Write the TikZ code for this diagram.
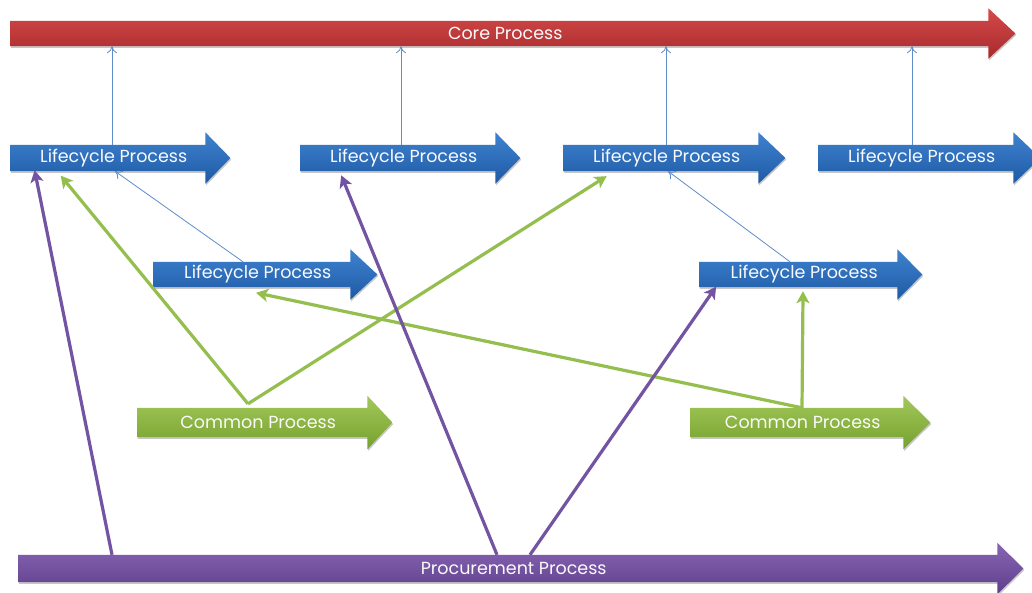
\documentclass[tikz,border=0pt]{standalone}
\usepackage{fontspec}
\setmainfont{Poppins}
\usetikzlibrary{arrows.meta,backgrounds,shadows}
\definecolor{redT}{HTML}{D44A4A}
\definecolor{redB}{HTML}{A82A2C}
\definecolor{bluT}{HTML}{3F82CF}
\definecolor{bluB}{HTML}{1E5AA5}
\definecolor{grnT}{HTML}{A2C85A}
\definecolor{grnB}{HTML}{76A12E}
\definecolor{purT}{HTML}{8865B3}
\definecolor{purB}{HTML}{5E3F8C}
\definecolor{lnBlue}{HTML}{5F8DC8}
\definecolor{lnGreen}{HTML}{94BE4E}
\definecolor{lnPurple}{HTML}{7354A3}
\tikzset{
  bar/.style={rectangle, inner sep=0pt, anchor=west, text=white!96!gray,
    font=\fontsize{17.5}{19}\selectfont},
  thinlink/.style={draw=lnBlue, line width=0.8pt, -{To[length=7pt,width=10pt]}},
  greenlink/.style={draw=lnGreen, line width=3.2pt, -{Stealth[length=12pt,width=13pt,inset=3pt]}, shorten >=-2pt},
  purplelink/.style={draw=lnPurple, line width=3.2pt, -{Stealth[length=12pt,width=13pt,inset=3pt]}, shorten >=-2pt},
  arrowshadow/.style={drop shadow={shadow xshift=0.8pt, shadow yshift=-1.6pt, opacity=0.22, fill=black}}
}
\newcommand\shapearrow[5]{%
  \path[top color=#4, bottom color=#5, arrowshadow]
    (#1.north west) -- (#1.north east) -- ([yshift=#2]#1.north east)
    -- ([xshift=#3]#1.east) -- ([yshift=-#2]#1.south east)
    -- (#1.south east) -- (#1.south west) -- cycle;}
\begin{document}
\begin{tikzpicture}[x=1pt,y=-1pt]
\useasboundingbox (0,0) rectangle (1032,592);

% nodes
\node[bar, minimum width=978pt, minimum height=25pt] (core) at (10,33.5) {\hspace*{12pt}Core Process};
\node[bar, minimum width=195pt, minimum height=26pt] (lp1) at (10,158) {\hspace*{12pt}Lifecycle Process};
\node[bar, minimum width=195pt, minimum height=26pt] (lp2) at (300,158) {\hspace*{12pt}Lifecycle Process};
\node[bar, minimum width=195pt, minimum height=26pt] (lp3) at (563,158) {\hspace*{12pt}Lifecycle Process};
\node[bar, minimum width=195pt, minimum height=26pt] (lp4) at (818,158) {\hspace*{12pt}Lifecycle Process};
\node[bar, minimum width=197pt, minimum height=25pt] (lp5) at (153,274.5) {\hspace*{12pt}Lifecycle Process};
\node[bar, minimum width=198pt, minimum height=25pt] (lp6) at (699,274.5) {\hspace*{12pt}Lifecycle Process};
\node[bar, minimum width=230pt, minimum height=29pt] (cp1) at (137,422.5) {\hspace*{12pt}Common Process};
\node[bar, minimum width=213pt, minimum height=29pt] (cp2) at (690,422.5) {\hspace*{12pt}Common Process};
\node[bar, minimum width=979pt, minimum height=27pt] (pp) at (18,568.5) {\hspace*{12pt}Procurement Process};

\begin{pgfonlayer}{background}
\fill[white] (0,0) rectangle (1032,592);
\shapearrow{core}{12.5pt}{27pt}{redT}{redB}
\shapearrow{lp1}{12.5pt}{25pt}{bluT}{bluB}
\shapearrow{lp2}{12.5pt}{25pt}{bluT}{bluB}
\shapearrow{lp3}{12.5pt}{27pt}{bluT}{bluB}
\shapearrow{lp4}{12.5pt}{27pt}{bluT}{bluB}
\shapearrow{lp5}{12.5pt}{27pt}{bluT}{bluB}
\shapearrow{lp6}{12.5pt}{25pt}{bluT}{bluB}
\shapearrow{cp1}{12pt}{25pt}{grnT}{grnB}
\shapearrow{cp2}{12pt}{27pt}{grnT}{grnB}
\shapearrow{pp}{12pt}{26pt}{purT}{purB}
\end{pgfonlayer}

% thin blue links
\draw[thinlink] ([xshift=102pt]lp1.north west) -- ([xshift=102pt]core.south west);
\draw[thinlink] ([xshift=101pt]lp2.north west) -- ([xshift=391pt]core.south west);
\draw[thinlink] ([xshift=103pt]lp3.north west) -- ([xshift=656pt]core.south west);
\draw[thinlink] ([xshift=94pt]lp4.north west) -- ([xshift=902pt]core.south west);
\draw[thinlink] ([xshift=90pt]lp5.north west) -- ([xshift=105pt]lp1.south west);
\draw[thinlink] ([xshift=91pt]lp6.north west) -- ([xshift=105pt]lp3.south west);

% green links
\coordinate (g1) at ([xshift=111pt,yshift=4pt]cp1.north west);
\coordinate (g2) at ([xshift=112pt]cp2.north west);
\draw[greenlink] (g1) -- ([xshift=52pt,yshift=-6pt]lp1.south west);
\draw[greenlink] (g1) -- ([xshift=42pt,yshift=-6pt]lp3.south west);
\draw[greenlink] (g2) -- ([xshift=105pt,yshift=-6pt]lp5.south west);
\draw[greenlink] (g2) -- ([xshift=104pt,yshift=-6pt]lp6.south west);

% purple links
\draw[purplelink] ([xshift=94pt]pp.north west) -- ([xshift=25pt,yshift=-1pt]lp1.south west);
\draw[purplelink] ([xshift=479pt]pp.north west) -- ([xshift=42pt,yshift=-6pt]lp2.south west);
\draw[purplelink] ([xshift=512pt]pp.north west) -- ([xshift=16pt,yshift=-1pt]lp6.south west);
\end{tikzpicture}
\end{document}
